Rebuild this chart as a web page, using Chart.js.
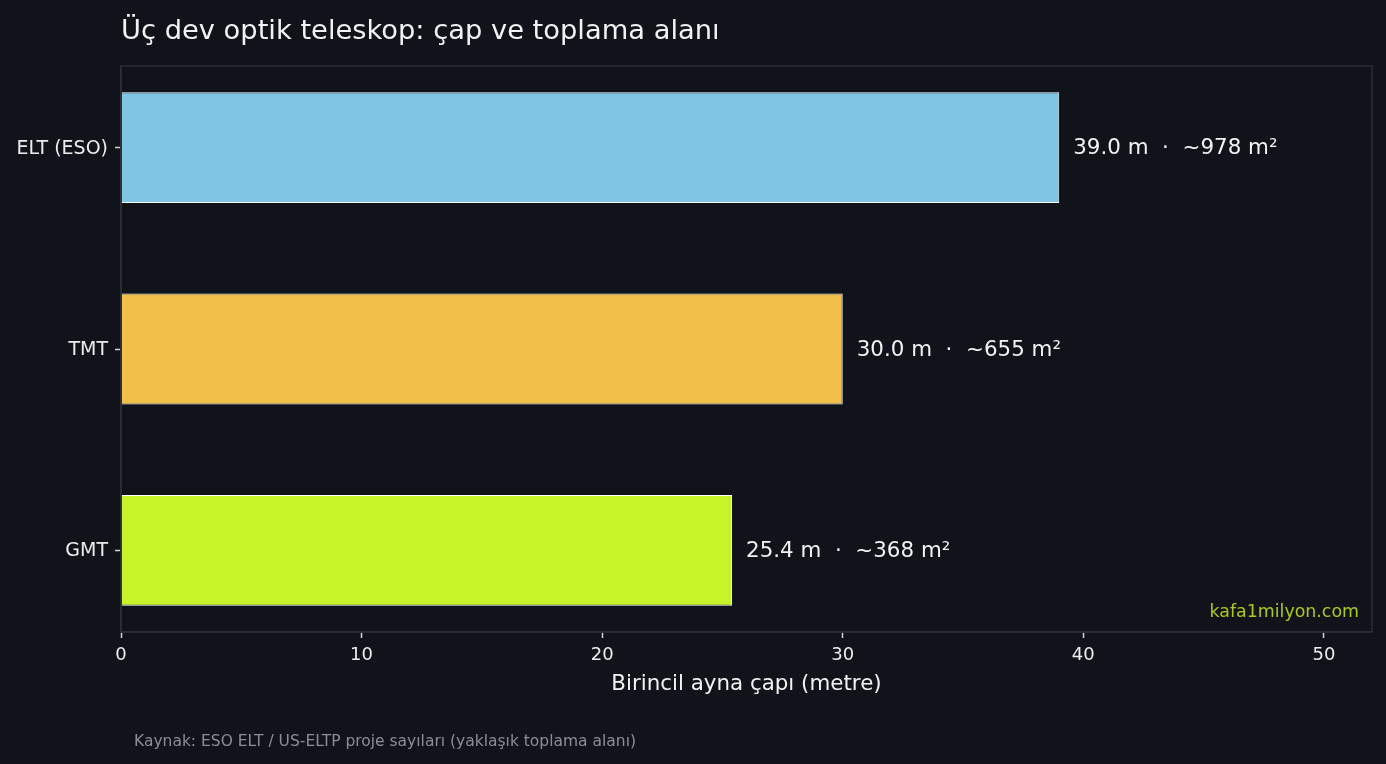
<!DOCTYPE html>
<html>
<head>
<meta charset="utf-8">
<script src="https://cdn.jsdelivr.net/npm/chart.js@4"></script>
<style>
  html, body { margin: 0; padding: 0; background: #10131a; }
  #wrap { width: 1386px; height: 764px; position: relative; }
</style>
</head>
<body>
<div id="wrap"><canvas id="teleskopChart"></canvas></div>
<script>
// Veriler
const teleskoplar = ['ELT (ESO)', 'TMT', 'GMT'];
const capMetre = [39.0, 30.0, 25.4];
const alanM2 = [978, 655, 368];
const renkler = ['#7ec6e3', '#f0c04a', '#c8f52a'];
const xTicks = [0, 10, 20, 30, 40, 50];

const FONT = "'DejaVu Sans', sans-serif";
const FRAME = '#2b2e37';
const TICK = '#d4d4d4';

// Çerçeve, başlık, etiketler
const ekstraPlugin = {
    id: 'ekstra',
    beforeDraw(chart) {
        const { ctx, width, height } = chart;
        ctx.save();
        ctx.fillStyle = '#10131a';
        ctx.fillRect(0, 0, width, height);
        ctx.restore();
    },
    afterDraw(chart) {
        const { ctx, chartArea: a } = chart;
        ctx.save();
        ctx.strokeStyle = FRAME;
        ctx.lineWidth = 1.5;
        ctx.strokeRect(a.left, a.top, a.right - a.left, a.bottom - a.top);

        // başlık
        ctx.fillStyle = '#f2f2f2';
        ctx.font = '27.3px ' + FONT;
        ctx.textAlign = 'left';
        ctx.textBaseline = 'alphabetic';
        ctx.fillText('Üç dev optik teleskop: çap ve toplama alanı', a.left, 39);

        // değer etiketleri
        const meta = chart.getDatasetMeta(0);
        ctx.font = '21.4px ' + FONT;
        ctx.fillStyle = '#f2f2f2';
        ctx.textBaseline = 'middle';
        meta.data.forEach((bar, i) => {
            const txt = capMetre[i].toFixed(1) + ' m  \u00b7  ~' + alanM2[i] + ' m\u00b2';
            ctx.fillText(txt, bar.x + 14, bar.y + 1);
        });

        // filigran
        ctx.font = '17.4px ' + FONT;
        ctx.fillStyle = '#a9c91f';
        ctx.textAlign = 'right';
        ctx.textBaseline = 'alphabetic';
        ctx.fillText('kafa1milyon.com', a.right - 13, 617);

        // kaynak
        ctx.font = '15.5px ' + FONT;
        ctx.fillStyle = '#8b8e94';
        ctx.textAlign = 'left';
        ctx.fillText('Kaynak: ESO ELT / US-ELTP proje sayıları (yaklaşık toplama alanı)', 134, 746);
        ctx.restore();
    }
};

const ctx = document.getElementById('teleskopChart').getContext('2d');
new Chart(ctx, {
    type: 'bar',
    data: {
        datasets: [{
            data: capMetre.map((v, i) => ({ x: v, y: i })),
            backgroundColor: renkler,
            borderColor: '#ffffff',
            borderWidth: 1,
            barPercentage: 0.55,
            categoryPercentage: 1.0
        }]
    },
    options: {
        indexAxis: 'y',
        responsive: true,
        maintainAspectRatio: false,
        animation: false,
        layout: { padding: { top: 66, right: 14, left: 0, bottom: 0 } },
        scales: {
            x: {
                type: 'linear',
                min: 0,
                max: 52,
                afterBuildTicks: (s) => { s.ticks = xTicks.map(v => ({ value: v })); },
                afterFit: (s) => { s.height = 764 - 632; },
                ticks: {
                    color: '#ececec',
                    font: { family: FONT, size: 18 },
                    padding: 7,
                    maxRotation: 0
                },
                grid: { drawOnChartArea: false, color: TICK, tickLength: 6, tickWidth: 1.5 },
                border: { color: FRAME, width: 1.5 },
                title: {
                    display: true,
                    text: 'Birincil ayna çapı (metre)',
                    color: '#f2f2f2',
                    font: { family: FONT, size: 21.4 },
                    padding: { top: 4, bottom: 67 }
                }
            },
            y: {
                type: 'linear',
                reverse: true,
                offset: false,
                min: -0.405,
                max: 2.405,
                afterBuildTicks: (s) => { s.ticks = teleskoplar.map((_, i) => ({ value: i })); },
                afterFit: (s) => { s.width = 121; },
                ticks: {
                    color: '#ececec',
                    font: { family: FONT, size: 19 },
                    padding: 7,
                    labelOffset: 1,
                    callback: (v) => teleskoplar[v]
                },
                grid: { offset: false, drawOnChartArea: false, color: TICK, tickLength: 6, tickWidth: 1.5 },
                border: { color: FRAME, width: 1.5 }
            }
        },
        plugins: {
            legend: { display: false },
            tooltip: { enabled: false }
        }
    },
    plugins: [ekstraPlugin]
});
</script>
</body>
</html>
